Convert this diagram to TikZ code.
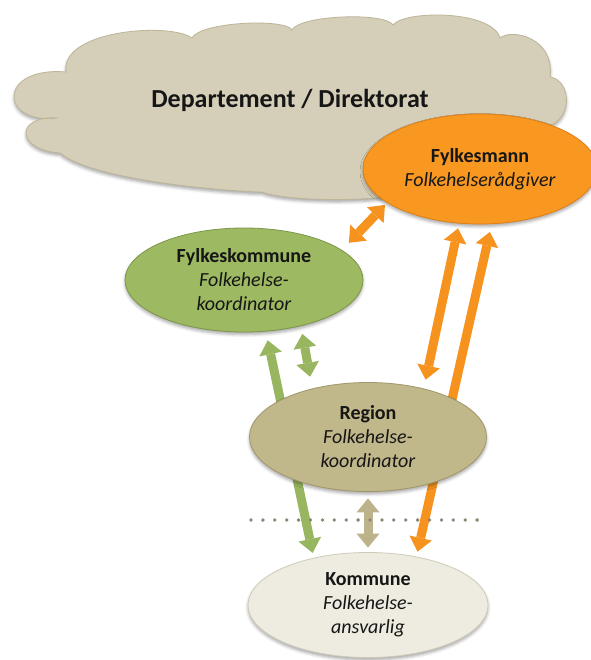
\documentclass[tikz,border=0pt]{standalone}
\usepackage{fontspec}
\setmainfont{Carlito}
\usetikzlibrary{shapes.geometric,arrows.meta,shadows.blur}

\definecolor{ink}{RGB}{22,22,22}
\definecolor{cloudfill}{RGB}{213,207,185}
\definecolor{clouddraw}{RGB}{188,181,152}
\definecolor{orangefill}{RGB}{248,152,33}
\definecolor{orangedraw}{RGB}{222,126,22}
\definecolor{greenfill}{RGB}{157,185,98}
\definecolor{greendraw}{RGB}{124,150,72}
\definecolor{regionfill}{RGB}{192,183,138}
\definecolor{regiondraw}{RGB}{160,150,106}
\definecolor{komfill}{RGB}{238,235,224}
\definecolor{komdraw}{RGB}{208,203,184}
\definecolor{orangelink}{RGB}{246,146,30}
\definecolor{greenlink}{RGB}{152,181,95}
\definecolor{khakilink}{RGB}{188,179,138}
\definecolor{dotgray}{RGB}{140,135,115}

\pgfdeclarelayer{links}
\pgfsetlayers{links,main}

\begin{document}
\begin{tikzpicture}[x=1pt,y=-1pt,
  every node/.style={text=ink, font=\fontsize{20}{24}\selectfont},
  softshadow/.style={blur shadow={shadow xshift=0pt, shadow yshift=-2.5pt,
      shadow blur radius=3pt, shadow opacity=35}},
  bubble/.style={ellipse, inner sep=0pt, align=center, line width=0.8pt, softshadow},
  cloudshape/.style={fill=cloudfill, draw=clouddraw, line width=0.8pt, softshadow},
  link/.style={line width=9pt,
      {Triangle[width=23pt,length=14pt,line width=0pt]}-{Triangle[width=23pt,length=14pt,line width=0pt]}},
  olink/.style={link, draw=orangelink},
  glink/.style={link, draw=greenlink},
  klink/.style={link, draw=khakilink},
  separator/.style={line width=3.8pt, draw=dotgray, line cap=round, dash pattern=on 0pt off 11.9pt}
]
\useasboundingbox (0,0) rectangle (590,660);

% top level cloud, one lobe per curve
\path[cloudshape]
  (58,118) .. controls (-2,125) and (-2,66) .. (66,72)
           .. controls (60,30) and (170,22) .. (192,38)
           .. controls (200,22) and (285,18) .. (292,30)
           .. controls (300,15) and (385,12) .. (393,25)
           .. controls (405,10) and (492,10) .. (500,38)
           .. controls (512,28) and (555,38) .. (550,77)
           .. controls (572,80) and (575,125) .. (540,128)
           .. controls (530,175) and (460,195) .. (430,185)
           .. controls (410,203) and (290,203) .. (262,192)
           .. controls (240,192) and (95,182) .. (60,153)
           .. controls (15,150) and (15,115) .. (58,118) -- cycle;
\node[font=\fontsize{26}{30}\selectfont\bfseries] (deptlabel) at (290,100) {Departement / Direktorat};

% organisation levels
\node[bubble, fill=orangefill, draw=orangedraw, minimum width=234pt, minimum height=110pt]
  (fm) at (480,169) {\textbf{Fylkesmann}\\\textit{Folkehelserådgiver}};
\node[bubble, fill=greenfill, draw=greendraw, minimum width=238pt, minimum height=104pt]
  (fk) at (244,280) {\textbf{Fylkeskommune}\\\textit{Folkehelse-}\\\textit{koordinator}};
\node[bubble, fill=regionfill, draw=regiondraw, minimum width=237pt, minimum height=109pt]
  (rg) at (368,437) {\textbf{Region}\\\textit{Folkehelse-}\\\textit{koordinator}};
\node[bubble, fill=komfill, draw=komdraw, minimum width=240pt, minimum height=105pt]
  (km) at (368,605) {\textbf{Kommune}\\\textit{Folkehelse-}\\\textit{ansvarlig}};

% two-way links, drawn behind the ellipses
\begin{pgfonlayer}{links}
\draw[olink, shorten <=10pt, shorten >=3pt] (fk.17) -- (fm.200);
\draw[olink, shorten <=5pt, shorten >=9pt] (fm.249) -- (rg.41);
\draw[olink, shorten <=8pt, shorten >=5pt] (fm.282) -- (km.45);
\draw[glink, shorten <=9pt, shorten >=5pt] (fk.293) -- (km.139);
\draw[glink, shorten <=8pt, shorten >=12pt] (fk.321) -- (rg.139);
\draw[klink, shorten <=6.5pt, shorten >=4.5pt] (rg.south) -- (km.north);
\end{pgfonlayer}

% dotted boundary between region and municipality
\coordinate (sepL) at (251,520);
\coordinate (sepR) at (488,520);
\draw[separator] (sepL) -- (sepR);
\end{tikzpicture}
\end{document}
